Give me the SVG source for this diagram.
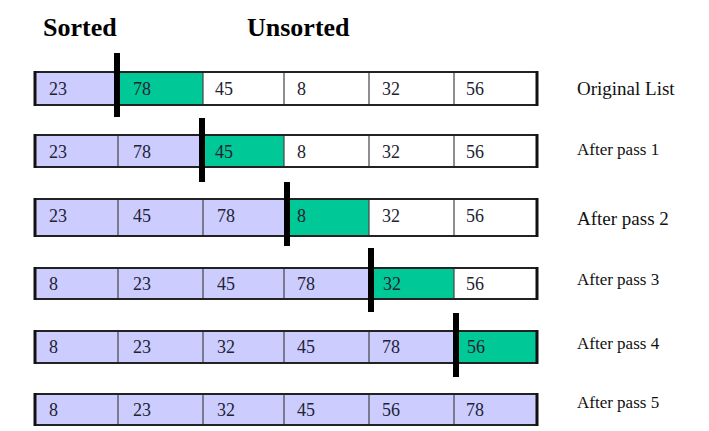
<svg xmlns="http://www.w3.org/2000/svg" width="709" height="431" viewBox="0 0 709 431">
<style>
.bg{fill:#ffffff}
.L{fill:#ccccff}
.G{fill:#00c896}
.W{fill:#ffffff}
.div{stroke:#444;stroke-width:1.2}
.frame{fill:none;stroke:#222;stroke-width:2}
.side{stroke:#111;stroke-width:3}
.bar{fill:#000}
.num{font-family:"Liberation Serif","Times New Roman",serif;font-size:18px;fill:#222233}
.lbl{font-family:"Liberation Serif","Times New Roman",serif;fill:#111}
.hdr{font-family:"Liberation Serif","Times New Roman",serif;font-size:26px;font-weight:bold;fill:#000}
</style>
<rect class="bg" x="0" y="0" width="709" height="431"/>
<g id="headers">
<text class="hdr" x="43" y="36">Sorted</text>
<text class="hdr" x="247" y="36">Unsorted</text>
</g>
<g id="row-original">
<rect class="L" x="35" y="72" width="83" height="33"/>
<rect class="G" x="118" y="72" width="85" height="33"/>
<rect class="W" x="203" y="72" width="334" height="33"/>
<path class="div" d="M203 72V105M284 72V105M369 72V105M454 72V105"/>
<rect class="frame" x="35" y="72" width="502" height="33"/>
<path class="side" d="M35 71V106M537 71V106"/>
<rect class="bar" x="114" y="53" width="6" height="64"/>
<text class="num" x="49" y="95">23</text><text class="num" x="133" y="95">78</text><text class="num" x="215" y="95">45</text><text class="num" x="297" y="95">8</text><text class="num" x="382" y="95">32</text><text class="num" x="466" y="95">56</text>
<text class="lbl" x="577" y="95" font-size="19">Original List</text>
</g>
<g id="row-pass1">
<rect class="L" x="35" y="135" width="168" height="32"/>
<rect class="G" x="203" y="135" width="81" height="32"/>
<rect class="W" x="284" y="135" width="253" height="32"/>
<path class="div" d="M118 135V167M284 135V167M369 135V167M454 135V167"/>
<rect class="frame" x="35" y="135" width="502" height="32"/>
<path class="side" d="M35 134V168M537 134V168"/>
<rect class="bar" x="199" y="118" width="6" height="64"/>
<text class="num" x="49" y="158">23</text><text class="num" x="133" y="158">78</text><text class="num" x="215" y="158">45</text><text class="num" x="297" y="158">8</text><text class="num" x="382" y="158">32</text><text class="num" x="466" y="158">56</text>
<text class="lbl" x="577" y="155" font-size="17">After pass 1</text>
</g>
<g id="row-pass2">
<rect class="L" x="35" y="199" width="249" height="37"/>
<rect class="G" x="284" y="199" width="85" height="37"/>
<rect class="W" x="369" y="199" width="168" height="37"/>
<path class="div" d="M118 199V236M203 199V236M369 199V236M454 199V236"/>
<rect class="frame" x="35" y="199" width="502" height="37"/>
<path class="side" d="M35 198V237M537 198V237"/>
<rect class="bar" x="284" y="182" width="6" height="64"/>
<text class="num" x="49" y="222">23</text><text class="num" x="133" y="222">45</text><text class="num" x="217" y="222">78</text><text class="num" x="297" y="222">8</text><text class="num" x="382" y="222">32</text><text class="num" x="466" y="222">56</text>
<text class="lbl" x="577" y="225" font-size="19">After pass 2</text>
</g>
<g id="row-pass3">
<rect class="L" x="35" y="268" width="334" height="31"/>
<rect class="G" x="369" y="268" width="85" height="31"/>
<rect class="W" x="454" y="268" width="83" height="31"/>
<path class="div" d="M118 268V299M203 268V299M284 268V299M454 268V299"/>
<rect class="frame" x="35" y="268" width="502" height="31"/>
<path class="side" d="M35 267V300M537 267V300"/>
<rect class="bar" x="368" y="248" width="6" height="64"/>
<text class="num" x="49" y="290">8</text><text class="num" x="133" y="290">23</text><text class="num" x="217" y="290">45</text><text class="num" x="297" y="290">78</text><text class="num" x="383" y="290">32</text><text class="num" x="466" y="290">56</text>
<text class="lbl" x="577" y="285" font-size="17">After pass 3</text>
</g>
<g id="row-pass4">
<rect class="L" x="35" y="331" width="419" height="32"/>
<rect class="G" x="454" y="331" width="83" height="32"/>
<path class="div" d="M118 331V363M203 331V363M284 331V363M369 331V363"/>
<rect class="frame" x="35" y="331" width="502" height="32"/>
<path class="side" d="M35 330V364M537 330V364"/>
<rect class="bar" x="453" y="313" width="6" height="64"/>
<text class="num" x="49" y="353">8</text><text class="num" x="133" y="353">23</text><text class="num" x="217" y="353">32</text><text class="num" x="297" y="353">45</text><text class="num" x="382" y="353">78</text><text class="num" x="467" y="353">56</text>
<text class="lbl" x="577" y="349" font-size="17">After pass 4</text>
</g>
<g id="row-pass5">
<rect class="L" x="35" y="394" width="502" height="31"/>
<path class="div" d="M118 394V425M203 394V425M284 394V425M369 394V425M454 394V425"/>
<rect class="frame" x="35" y="394" width="502" height="31"/>
<path class="side" d="M35 393V426M537 393V426"/>
<text class="num" x="49" y="416">8</text><text class="num" x="133" y="416">23</text><text class="num" x="217" y="416">32</text><text class="num" x="297" y="416">45</text><text class="num" x="382" y="416">56</text><text class="num" x="466" y="416">78</text>
<text class="lbl" x="577" y="408" font-size="17">After pass 5</text>
</g>
</svg>
